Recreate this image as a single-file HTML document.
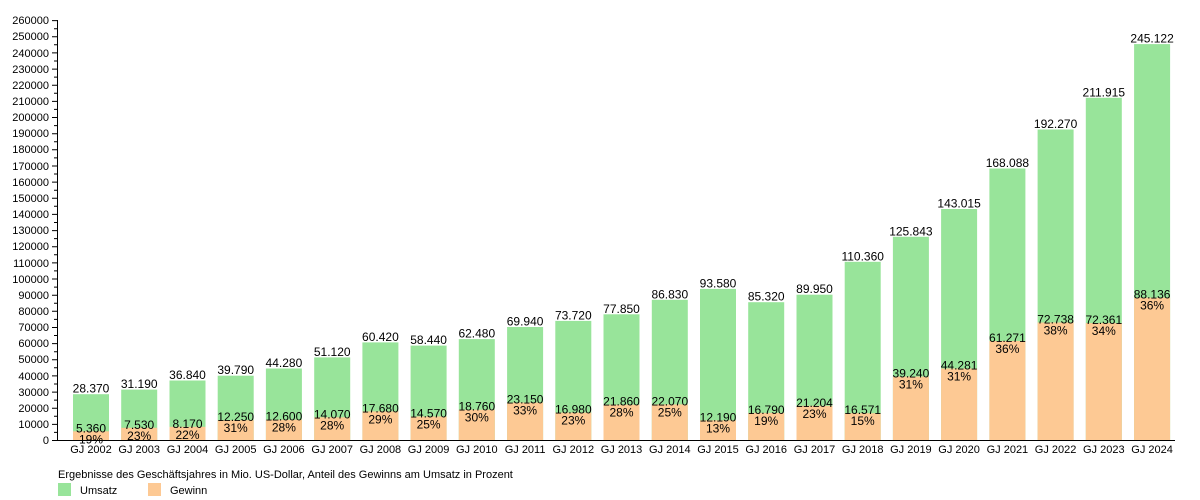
<!DOCTYPE html>
<html><head><meta charset="utf-8"><style>body{margin:0;background:#fff}svg{display:block;font-family:"Liberation Sans",sans-serif}</style></head><body>
<svg width="1200" height="500" viewBox="0 0 1200 500" xmlns="http://www.w3.org/2000/svg">
<g fill="#98e49a">
<rect x="73" y="394.2" width="36" height="45.8"/><rect x="121.2" y="389.6" width="36" height="50.4"/><rect x="169.5" y="380.5" width="36" height="59.5"/><rect x="217.7" y="375.7" width="36" height="64.3"/><rect x="265.9" y="368.5" width="36" height="71.5"/><rect x="314.2" y="357.4" width="36" height="82.6"/><rect x="362.4" y="342.4" width="36" height="97.6"/><rect x="410.6" y="345.6" width="36" height="94.4"/><rect x="458.8" y="339.1" width="36" height="100.9"/><rect x="507.1" y="327" width="36" height="113"/><rect x="555.3" y="320.9" width="36" height="119.1"/><rect x="603.5" y="314.3" width="36" height="125.7"/><rect x="651.8" y="299.8" width="36" height="140.2"/><rect x="700" y="288.9" width="36" height="151.1"/><rect x="748.2" y="302.2" width="36" height="137.8"/><rect x="796.5" y="294.7" width="36" height="145.3"/><rect x="844.7" y="261.8" width="36" height="178.2"/><rect x="892.9" y="236.8" width="36" height="203.2"/><rect x="941.1" y="209" width="36" height="231"/><rect x="989.4" y="168.5" width="36" height="271.5"/><rect x="1037.6" y="129.5" width="36" height="310.5"/><rect x="1085.8" y="97.8" width="36" height="342.2"/><rect x="1134.1" y="44.1" width="36" height="395.9"/>
</g>
<g fill="#fdc994">
<rect x="73" y="431.3" width="36" height="8.7"/><rect x="121.2" y="427.8" width="36" height="12.2"/><rect x="169.5" y="426.8" width="36" height="13.2"/><rect x="217.7" y="420.2" width="36" height="19.8"/><rect x="265.9" y="419.7" width="36" height="20.3"/><rect x="314.2" y="417.3" width="36" height="22.7"/><rect x="362.4" y="411.4" width="36" height="28.6"/><rect x="410.6" y="416.5" width="36" height="23.5"/><rect x="458.8" y="409.7" width="36" height="30.3"/><rect x="507.1" y="402.6" width="36" height="37.4"/><rect x="555.3" y="412.6" width="36" height="27.4"/><rect x="603.5" y="404.7" width="36" height="35.3"/><rect x="651.8" y="404.4" width="36" height="35.6"/><rect x="700" y="420.3" width="36" height="19.7"/><rect x="748.2" y="412.9" width="36" height="27.1"/><rect x="796.5" y="405.8" width="36" height="34.2"/><rect x="844.7" y="413.2" width="36" height="26.8"/><rect x="892.9" y="376.6" width="36" height="63.4"/><rect x="941.1" y="368.5" width="36" height="71.5"/><rect x="989.4" y="341" width="36" height="99"/><rect x="1037.6" y="322.5" width="36" height="117.5"/><rect x="1085.8" y="323.1" width="36" height="116.9"/><rect x="1134.1" y="297.7" width="36" height="142.3"/>
</g>
<g stroke="#000" stroke-width="1" fill="none">
<path d="M57.5 20V440.5H1175"/>
<path d="M52 440.5h5M52 424.4h5M52 408.2h5M52 392.1h5M52 375.9h5M52 359.8h5M52 343.6h5M52 327.5h5M52 311.3h5M52 295.2h5M52 279h5M52 262.9h5M52 246.7h5M52 230.6h5M52 214.4h5M52 198.3h5M52 182.1h5M52 166h5M52 149.8h5M52 133.7h5M52 117.5h5M52 101.4h5M52 85.2h5M52 69.1h5M52 52.9h5M52 36.8h5M52 20.6h5"/>
<path d="M54 432.4h3M54 416.3h3M54 400.1h3M54 384h3M54 367.8h3M54 351.7h3M54 335.5h3M54 319.4h3M54 303.2h3M54 287.1h3M54 270.9h3M54 254.8h3M54 238.6h3M54 222.5h3M54 206.3h3M54 190.2h3M54 174h3M54 157.9h3M54 141.7h3M54 125.6h3M54 109.4h3M54 93.3h3M54 77.1h3M54 61h3M54 44.8h3M54 28.7h3"/>
</g>
<g font-size="11" text-anchor="end" fill="#000">
<text x="49" y="444">0</text><text x="49" y="428">10000</text><text x="49" y="412">20000</text><text x="49" y="396">30000</text><text x="49" y="380">40000</text><text x="49" y="363">50000</text><text x="49" y="347">60000</text><text x="49" y="331">70000</text><text x="49" y="315">80000</text><text x="49" y="299">90000</text><text x="49" y="283">100000</text><text x="49" y="267">110000</text><text x="49" y="250">120000</text><text x="49" y="234">130000</text><text x="49" y="218">140000</text><text x="49" y="202">150000</text><text x="49" y="186">160000</text><text x="49" y="170">170000</text><text x="49" y="153">180000</text><text x="49" y="137">190000</text><text x="49" y="121">200000</text><text x="49" y="105">210000</text><text x="49" y="89">220000</text><text x="49" y="73">230000</text><text x="49" y="57">240000</text><text x="49" y="40">250000</text><text x="49" y="24">260000</text>
</g>
<g font-size="11" text-anchor="middle" fill="#000">
<text x="91" y="453">GJ 2002</text><text x="139.2" y="453">GJ 2003</text><text x="187.5" y="453">GJ 2004</text><text x="235.7" y="453">GJ 2005</text><text x="283.9" y="453">GJ 2006</text><text x="332.2" y="453">GJ 2007</text><text x="380.4" y="453">GJ 2008</text><text x="428.6" y="453">GJ 2009</text><text x="476.8" y="453">GJ 2010</text><text x="525.1" y="453">GJ 2011</text><text x="573.3" y="453">GJ 2012</text><text x="621.5" y="453">GJ 2013</text><text x="669.8" y="453">GJ 2014</text><text x="718" y="453">GJ 2015</text><text x="766.2" y="453">GJ 2016</text><text x="814.5" y="453">GJ 2017</text><text x="862.7" y="453">GJ 2018</text><text x="910.9" y="453">GJ 2019</text><text x="959.1" y="453">GJ 2020</text><text x="1007.4" y="453">GJ 2021</text><text x="1055.6" y="453">GJ 2022</text><text x="1103.8" y="453">GJ 2023</text><text x="1152.1" y="453">GJ 2024</text>
</g>
<g font-size="12" text-anchor="middle" fill="#000">
<text x="91" y="392.7">28.370</text><text x="139.2" y="388.1">31.190</text><text x="187.5" y="379">36.840</text><text x="235.7" y="374.2">39.790</text><text x="283.9" y="367">44.280</text><text x="332.2" y="355.9">51.120</text><text x="380.4" y="340.9">60.420</text><text x="428.6" y="344.1">58.440</text><text x="476.8" y="337.6">62.480</text><text x="525.1" y="325.5">69.940</text><text x="573.3" y="319.4">73.720</text><text x="621.5" y="312.8">77.850</text><text x="669.8" y="298.3">86.830</text><text x="718" y="287.4">93.580</text><text x="766.2" y="300.7">85.320</text><text x="814.5" y="293.2">89.950</text><text x="862.7" y="260.3">110.360</text><text x="910.9" y="235.3">125.843</text><text x="959.1" y="207.5">143.015</text><text x="1007.4" y="167">168.088</text><text x="1055.6" y="128">192.270</text><text x="1103.8" y="96.3">211.915</text><text x="1152.1" y="42.6">245.122</text>
<text x="91" y="432.3">5.360</text><text x="139.2" y="428.8">7.530</text><text x="187.5" y="427.8">8.170</text><text x="235.7" y="421.2">12.250</text><text x="283.9" y="420.7">12.600</text><text x="332.2" y="418.3">14.070</text><text x="380.4" y="412.4">17.680</text><text x="428.6" y="417.5">14.570</text><text x="476.8" y="410.7">18.760</text><text x="525.1" y="403.6">23.150</text><text x="573.3" y="413.6">16.980</text><text x="621.5" y="405.7">21.860</text><text x="669.8" y="405.4">22.070</text><text x="718" y="421.3">12.190</text><text x="766.2" y="413.9">16.790</text><text x="814.5" y="406.8">21.204</text><text x="862.7" y="414.2">16.571</text><text x="910.9" y="377.6">39.240</text><text x="959.1" y="369.5">44.281</text><text x="1007.4" y="342">61.271</text><text x="1055.6" y="323.5">72.738</text><text x="1103.8" y="324.1">72.361</text><text x="1152.1" y="298.7">88.136</text>
<text x="91" y="443.3">19%</text><text x="139.2" y="439.8">23%</text><text x="187.5" y="438.8">22%</text><text x="235.7" y="432.2">31%</text><text x="283.9" y="431.7">28%</text><text x="332.2" y="429.3">28%</text><text x="380.4" y="423.4">29%</text><text x="428.6" y="428.5">25%</text><text x="476.8" y="421.7">30%</text><text x="525.1" y="414.6">33%</text><text x="573.3" y="424.6">23%</text><text x="621.5" y="416.7">28%</text><text x="669.8" y="416.4">25%</text><text x="718" y="432.3">13%</text><text x="766.2" y="424.9">19%</text><text x="814.5" y="417.8">23%</text><text x="862.7" y="425.2">15%</text><text x="910.9" y="388.6">31%</text><text x="959.1" y="380.5">31%</text><text x="1007.4" y="353">36%</text><text x="1055.6" y="334.5">38%</text><text x="1103.8" y="335.1">34%</text><text x="1152.1" y="309.7">36%</text>
</g>
<text x="58" y="478" font-size="11" fill="#000">Ergebnisse des Geschäftsjahres in Mio. US-Dollar, Anteil des Gewinns am Umsatz in Prozent</text>
<rect x="58" y="483" width="13" height="13" fill="#98e49a"/>
<rect x="148" y="483" width="13" height="13" fill="#fdc994"/>
<text x="80" y="494" font-size="11" fill="#000">Umsatz</text>
<text x="170" y="494" font-size="11" fill="#000">Gewinn</text>
</svg>
</body></html>
